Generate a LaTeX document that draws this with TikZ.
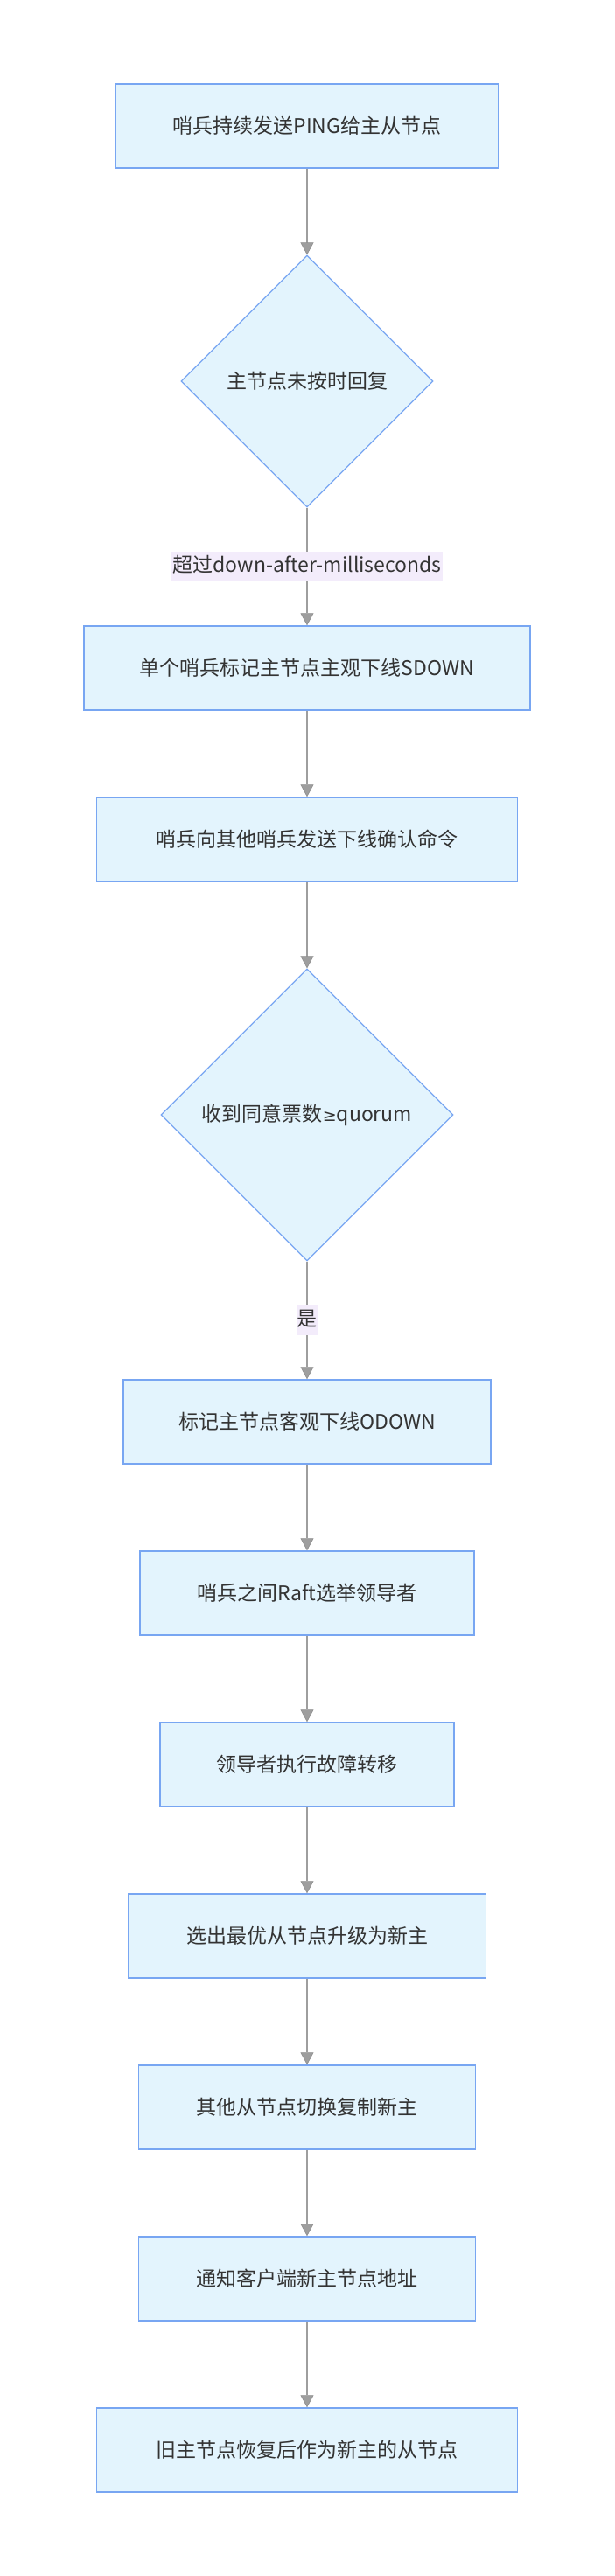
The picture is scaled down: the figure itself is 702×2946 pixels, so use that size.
\documentclass[tikz,border=0pt]{standalone}
\usepackage{fontspec}
\setmainfont{Noto Sans CJK SC}
\newfontfamily\symfont{DejaVu Sans}
\usetikzlibrary{shapes.geometric,arrows.meta}
\definecolor{boxfill}{HTML}{E3F4FD}
\definecolor{boxline}{HTML}{78A6F2}
\definecolor{txt}{HTML}{333333}
\definecolor{edgecol}{HTML}{9E9E9E}
\definecolor{tipcol}{HTML}{8E8E8E}
\definecolor{lblfill}{HTML}{F3ECFB}
\tikzset{
  stepbox/.style={rectangle, draw=boxline, fill=boxfill, line width=1.5pt, minimum height=96pt, inner sep=0pt, text=txt, font=\fontsize{23}{28}\selectfont},
  decide/.style={diamond, aspect=1, draw=boxline, fill=boxfill, line width=1.2pt, inner sep=0pt, text=txt, font=\fontsize{23}{28}\selectfont},
  edge/.style={draw=edgecol, line width=1.5pt, -{Triangle[width=15pt,length=14pt,fill=edgecol,color=tipcol,line width=0.6pt]}},
  elabel/.style={fill=lblfill, inner xsep=1pt, inner ysep=4pt, text=txt, font=\fontsize{23}{28}\selectfont, text height=20pt, text depth=6pt}
}
\begin{document}
\begin{tikzpicture}[x=1pt,y=-1pt]
\useasboundingbox (0,0) rectangle (702,2946);
\node[stepbox, minimum width=437pt] (b1) at (351,144) {哨兵持续发送PING给主从节点};
\node[decide, minimum width=288pt, minimum height=288pt] (d1) at (351,436) {主节点未按时回复};
\node[stepbox, minimum width=510pt] (b2) at (351,764) {单个哨兵标记主节点主观下线SDOWN};
\node[stepbox, minimum width=481pt] (b3) at (351,960) {哨兵向其他哨兵发送下线确认命令};
\node[decide, minimum width=334pt, minimum height=334pt] (d2) at (351,1275) {收到同意票数{\symfont\fontsize{19}{28}\selectfont ≥}quorum};
\node[stepbox, minimum width=420pt] (b4) at (351,1626) {标记主节点客观下线ODOWN};
\node[stepbox, minimum width=382pt] (b5) at (351,1822) {哨兵之间Raft选举领导者};
\node[stepbox, minimum width=336pt] (b6) at (351,2018) {领导者执行故障转移};
\node[stepbox, minimum width=409pt] (b7) at (351,2214) {选出最优从节点升级为新主};
\node[stepbox, minimum width=385pt] (b8) at (351,2410) {其他从节点切换复制新主};
\node[stepbox, minimum width=385pt] (b9) at (351,2606) {通知客户端新主节点地址};
\node[stepbox, minimum width=481pt] (b10) at (351,2802) {旧主节点恢复后作为新主的从节点};
\draw[edge] (b1) -- (d1);
\draw[edge] (d1) -- node[elabel] (l1) {超过down-after-milliseconds} (b2);
\draw[edge] (b2) -- (b3);
\draw[edge] (b3) -- (d2);
\draw[edge] (d2) -- node[elabel] (l2) {是} (b4);
\draw[edge] (b4) -- (b5);
\draw[edge] (b5) -- (b6);
\draw[edge] (b6) -- (b7);
\draw[edge] (b7) -- (b8);
\draw[edge] (b8) -- (b9);
\draw[edge] (b9) -- (b10);
\end{tikzpicture}
\end{document}
